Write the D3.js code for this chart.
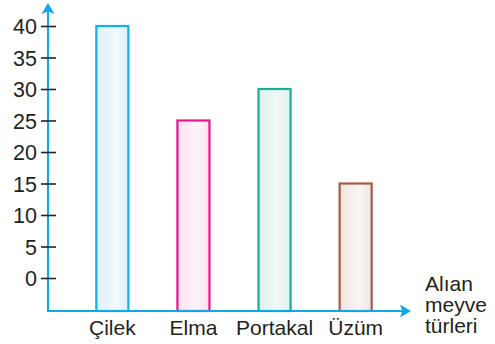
<!DOCTYPE html>
<html>
<head>
<meta charset="utf-8">
<script src="https://cdn.jsdelivr.net/npm/d3@7"></script>
<style>
  html, body { margin: 0; padding: 0; background: #fff; }
  svg { display: block; font-family: "Liberation Sans", Arial, Helvetica, sans-serif; }
</style>
</head>
<body>
<svg id="chart" width="495" height="344"></svg>
<script>
// Fruit types and counts
const categories = ["Çilek", "Elma", "Portakal", "Üzüm"];
const values = [40, 25, 30, 15];
const yTicks = [0, 5, 10, 15, 20, 25, 30, 35, 40];
const strokeColors = ["#16b1ea", "#e8168a", "#1aae96", "#a65a4a"];
const fillColors = ["#dcf0fa", "#fbe2ef", "#dff1ee", "#f1e5e1"];
const axisLabel = ["Alıan", "meyve", "türleri"];

const svg = d3.select("#chart");
const axisColor = "#13a6e6";
const textColor = "#231f20";
const font = "'Liberation Sans', Arial, sans-serif";

const originX = 48, axisY = 311;

const y = d3.scaleLinear().domain([0, 40]).range([278, 26]);
const x = d3.scaleBand().domain(categories).range([72, 396]).paddingInner(0.605).paddingOuter(0.3);

// bar gradients: soft highlight toward the right of each bar
const defs = svg.append("defs");
categories.forEach((c, i) => {
  const g = defs.append("linearGradient").attr("id", "grad" + i)
    .attr("x1", "0%").attr("x2", "100%").attr("y1", "0%").attr("y2", "0%");
  g.append("stop").attr("offset", "0%").attr("stop-color", fillColors[i]);
  g.append("stop").attr("offset", "60%").attr("stop-color", d3.interpolateRgb(fillColors[i], "#ffffff")(0.6));
  g.append("stop").attr("offset", "100%").attr("stop-color", fillColors[i]);
});

// bars, standing on the horizontal axis
svg.append("g").selectAll("rect").data(values).join("rect")
  .attr("x", (d, i) => x(categories[i]))
  .attr("y", d => y(d))
  .attr("width", x.bandwidth())
  .attr("height", d => axisY - y(d))
  .attr("fill", (d, i) => `url(#grad${i})`)
  .attr("stroke", (d, i) => strokeColors[i])
  .attr("stroke-width", 2.2);

// axis lines
svg.append("line").attr("x1", originX).attr("y1", axisY + 1).attr("x2", originX).attr("y2", 8)
  .attr("stroke", axisColor).attr("stroke-width", 2);
svg.append("line").attr("x1", originX - 1).attr("y1", axisY).attr("x2", 404).attr("y2", axisY)
  .attr("stroke", axisColor).attr("stroke-width", 2);

// arrow heads
const head = (tx, ty, ang) => {
  const s = 11, w = 6.5;
  svg.append("path")
    .attr("d", `M0,0 L${-s},${-w} L${-s * 0.78},0 L${-s},${w} Z`)
    .attr("fill", axisColor)
    .attr("transform", `translate(${tx},${ty}) rotate(${ang})`);
};
head(originX, 3, -90);
head(411, axisY, 0);

// y ticks crossing the axis
const yAxis = d3.axisLeft(y).tickValues(yTicks).tickSize(0).tickPadding(0).tickFormat(d3.format("d"));
const gy = svg.append("g").attr("transform", `translate(${originX},0)`).call(yAxis);
gy.select(".domain").remove();
gy.selectAll(".tick line").attr("x1", -7).attr("x2", 8).attr("stroke", "#222").attr("stroke-width", 1.6);
gy.selectAll(".tick text")
  .attr("x", -11).attr("dy", "0.36em")
  .attr("fill", textColor).attr("font-size", 21.5)
  .attr("font-family", font);

// category labels
const xAxis = d3.axisBottom(x).tickSize(0).tickPadding(0);
const gx = svg.append("g").attr("transform", `translate(0,${axisY})`).call(xAxis);
gx.select(".domain").remove();
gx.selectAll(".tick text")
  .attr("y", 24).attr("dy", 0)
  .attr("fill", textColor).attr("font-size", 21)
  .attr("font-family", font);

// axis title
svg.append("text").attr("x", 425).attr("y", 291)
  .attr("fill", textColor).attr("font-size", 21).attr("font-family", font)
  .selectAll("tspan").data(axisLabel).join("tspan")
  .attr("x", 425).attr("dy", (d, i) => i === 0 ? 0 : 21)
  .text(d => d);
</script>
</body>
</html>
